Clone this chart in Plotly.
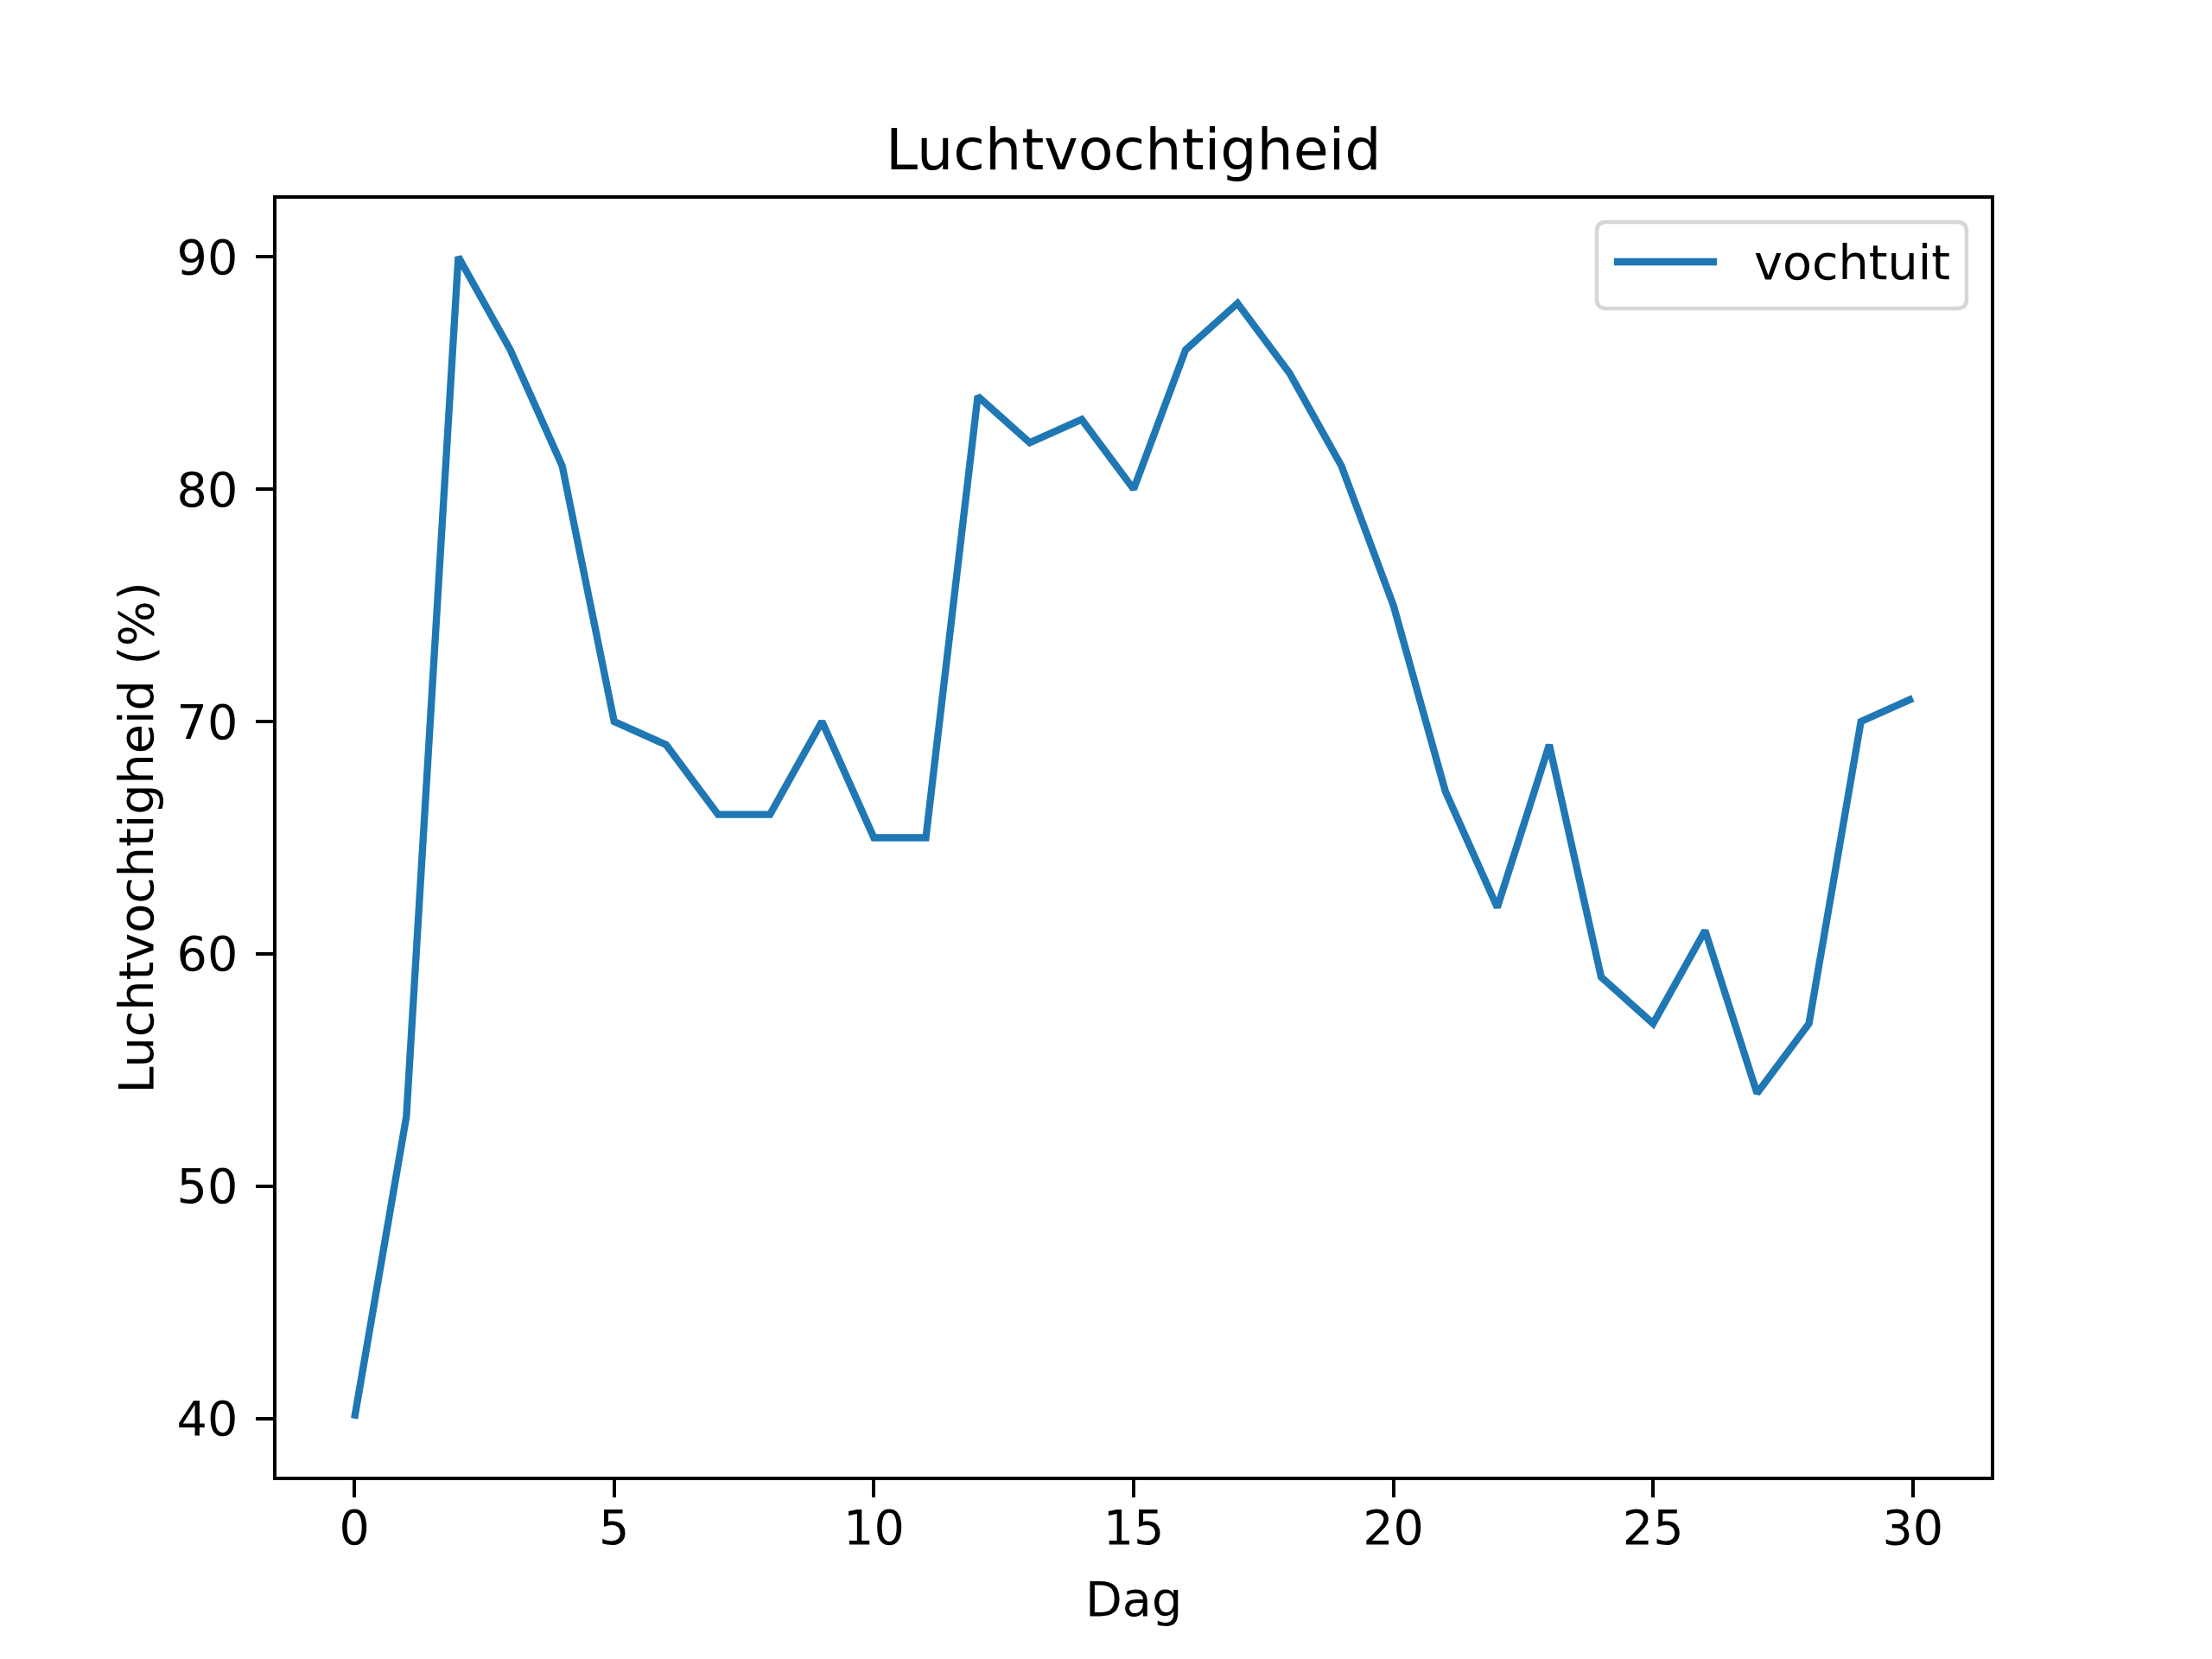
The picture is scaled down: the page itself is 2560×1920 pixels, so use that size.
import plotly.graph_objects as go

# data
dagen = list(range(31))
vochtuit = [40, 53, 90, 86, 81, 70, 69, 66, 66, 70, 65, 65, 84, 82, 83, 80,
            86, 88, 85, 81, 75, 67, 62, 69, 59, 57, 61, 54, 57, 70, 71]
x_ticks = [0, 5, 10, 15, 20, 25, 30]
y_ticks = [40, 50, 60, 70, 80, 90]
series_name = "vochtuit"

# page has an 8px body margin, so the figure is shrunk by that much
OFF = 8
PX0, PX1, PY0, PY1 = 320, 2304, 230, 1709  # plot area in page pixels
W, H = 2560 - OFF, 1920 - OFF
L, T = PX0 - OFF, PY0 - OFF
R, B = W - (PX1 - OFF), H - (PY1 - OFF)
FONT = "DejaVu Sans"
FS = 55.6
BLUE = "#1f77b4"


def px(x):
    return (x - PX0) / (PX1 - PX0)


def py(y):
    return (PY1 - y) / (PY1 - PY0)


def rounded_box(x0, y0, x1, y1, r=11):
    # rounded rectangle path in paper coordinates (page pixels in)
    rx = r / (PX1 - PX0)
    ry = r / (PY1 - PY0)
    a, b, c, d = px(x0), py(y1), px(x1), py(y0)  # left, bottom, right, top
    return (f"M {a + rx},{b} L {c - rx},{b} Q {c},{b} {c},{b + ry} "
            f"L {c},{d - ry} Q {c},{d} {c - rx},{d} L {a + rx},{d} "
            f"Q {a},{d} {a},{d - ry} L {a},{b + ry} Q {a},{b} {a + rx},{b} Z")


fig = go.Figure()
fig.add_trace(go.Scatter(x=dagen, y=vochtuit, mode="lines", name=series_name,
                         line=dict(color=BLUE, width=8.3), showlegend=False))

axis_common = dict(
    showline=True, linecolor="black", linewidth=4.4, mirror=True,
    ticks="outside", ticklen=19.4, tickwidth=4.4, tickcolor="black",
    showgrid=False, zeroline=False,
    tickfont=dict(family=FONT, size=FS, color="black"),
)

fig.update_xaxes(range=[-1.5, 31.5], tickvals=x_ticks, ticklabelstandoff=-12, **axis_common)
fig.update_yaxes(range=[37.5, 92.5], tickvals=y_ticks, ticklabelstandoff=10, **axis_common)

# legend drawn by hand to get the matplotlib look
shapes = [
    dict(type="path", xref="paper", yref="paper", path=rounded_box(1848, 257, 2276, 357),
         line=dict(color="#d6d6d6", width=4.4), fillcolor="white", layer="above"),
    dict(type="line", xref="paper", yref="paper", x0=px(1868), x1=px(1987),
         y0=py(303), y1=py(303), line=dict(color=BLUE, width=8.3), layer="above"),
]

fig.update_layout(
    width=W, height=H,
    margin=dict(l=L, r=R, t=T, b=B, pad=0),
    plot_bgcolor="white", paper_bgcolor="white",
    font=dict(family=FONT, size=FS, color="black"),
    showlegend=False,
    shapes=shapes,
    annotations=[
        dict(text="Luchtvochtigheid", xref="paper", yref="paper", x=0.5, y=py(173),
             showarrow=False, font=dict(family=FONT, size=66.7),
             xanchor="center", yanchor="middle"),
        dict(text="Dag", xref="paper", yref="paper", x=0.5, y=py(1850),
             showarrow=False, font=dict(family=FONT, size=FS),
             xanchor="center", yanchor="middle"),
        dict(text="Luchtvochtigheid (%)", xref="paper", yref="paper", x=px(157), y=0.5,
             showarrow=False, textangle=-90, font=dict(family=FONT, size=FS),
             xanchor="center", yanchor="middle"),
        dict(text=series_name, xref="paper", yref="paper", x=px(2028), y=py(303),
             showarrow=False, font=dict(family=FONT, size=FS),
             xanchor="left", yanchor="middle"),
    ],
)

fig.write_html("out.html")
